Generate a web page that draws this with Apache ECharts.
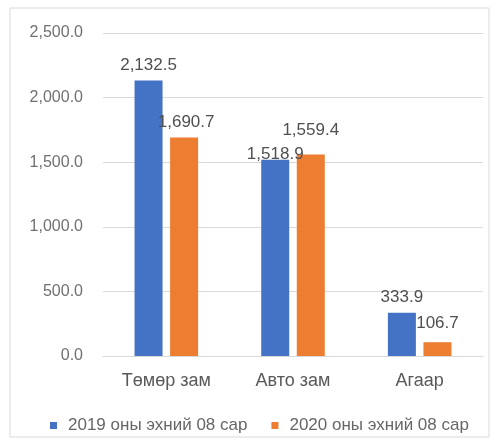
<!DOCTYPE html>
<html><head><meta charset="utf-8">
<script src="https://cdn.jsdelivr.net/npm/echarts@6/dist/echarts.min.js"></script>
<style>html,body{margin:0;padding:0;background:#fff}#c{width:501px;height:445px}</style>
</head><body><div id="c"></div>
<script>
const categories = ['Төмөр зам', 'Авто зам', 'Агаар'];
const series2019 = [2132.5, 1518.9, 333.9];
const series2020 = [1690.7, 1559.4, 106.7];
const seriesNames = ['2019 оны эхний 08 сар', '2020 оны эхний 08 сар'];
const yTicks = [0, 500, 1000, 1500, 2000, 2500];

// label nudges (layout only)
const labelOffsets2019 = [[0, 0], [0, 10], [0, 0]];
const labelOffsets2020 = [[2, 0], [0, -9], [0, -3]];

const fmt = v => v.toLocaleString('en-US', {minimumFractionDigits: 1, maximumFractionDigits: 1});
const font = 'Liberation Sans, Arial, sans-serif';
const mk = (vals, offs) => vals.map((v, i) => ({value: v, label: {offset: offs[i]}}));
const chart = echarts.init(document.getElementById('c'));
chart.setOption({
  animation: false,
  textStyle: {fontFamily: font},
  graphic: [{type: 'rect', shape: {x: 10, y: 8, width: 479, height: 429}, style: {fill: 'none', stroke: '#d9d9d9', lineWidth: 1}}],
  grid: {left: 103, right: 18, top: 33, bottom: 89},
  legend: {
    top: 412, left: 45, itemWidth: 7, itemHeight: 7, itemGap: 24,
    icon: 'rect',
    textStyle: {color: '#666666', fontSize: 17, fontFamily: font, padding: [0, 0, 0, 6]}
  },
  xAxis: {
    type: 'category', data: categories,
    axisLine: {show: true, lineStyle: {color: '#d9d9d9'}}, axisTick: {show: false},
    axisLabel: {color: '#595959', fontSize: 18, margin: 16, fontFamily: font}
  },
  yAxis: {
    type: 'value', min: yTicks[0], max: yTicks[yTicks.length - 1], interval: 500,
    axisLine: {show: false}, axisTick: {show: false},
    splitLine: {lineStyle: {color: '#d9d9d9'}},
    axisLabel: {color: '#707070', fontSize: 16, margin: 20, formatter: v => fmt(v), fontFamily: font}
  },
  series: [
    {name: seriesNames[0], type: 'bar', data: mk(series2019, labelOffsets2019), barWidth: 28, barGap: '27%',
     itemStyle: {color: '#4472C4'},
     label: {show: true, position: 'top', distance: 7, color: '#505050', fontSize: 17, formatter: p => fmt(p.value), fontFamily: font}},
    {name: seriesNames[1], type: 'bar', data: mk(series2020, labelOffsets2020), barWidth: 28,
     itemStyle: {color: '#ED7D31'},
     label: {show: true, position: 'top', distance: 7, color: '#505050', fontSize: 17, formatter: p => fmt(p.value), fontFamily: font}}
  ]
});
</script></body></html>
